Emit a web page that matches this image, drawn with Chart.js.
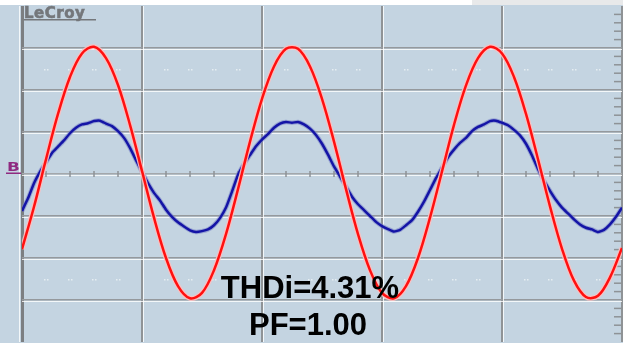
<!DOCTYPE html>
<html>
<head>
<meta charset="utf-8">
<script src="https://cdn.jsdelivr.net/npm/chart.js@4.4.1/dist/chart.umd.min.js"></script>
<style>
  body { margin: 0; background: #c4d4e1; }
  canvas { display: block; }
</style>
</head>
<body>
<canvas id="scope" width="623" height="343"></canvas>
<script>
// red trace: time in screen divisions, value in vertical divisions
const redTimes = [
  0, 0.1, 0.2, 0.3, 0.4, 0.5, 0.6, 0.7, 0.8, 0.9,
  1, 1.1, 1.2, 1.3, 1.4, 1.5, 1.6, 1.7, 1.8, 1.9,
  2, 2.1, 2.2, 2.3, 2.4, 2.5, 2.6, 2.7, 2.8, 2.9,
  3, 3.1, 3.2, 3.3, 3.4, 3.5, 3.6, 3.7, 3.8, 3.9,
  4, 4.1, 4.2, 4.3, 4.4, 4.5, 4.6, 4.7, 4.8, 4.9, 5
];
const redTrace = [
  -1.79, -0.78, 0.35, 1.43, 2.31, 2.87, 3.03, 2.76, 2.12, 1.17,
  0.07, -1.04, -2.00, -2.67, -2.96, -2.83, -2.29, -1.43, -0.36, 0.77,
  1.79, 2.56, 2.98, 2.98, 2.56, 1.79, 0.77, -0.36, -1.43, -2.29,
  -2.83, -2.96, -2.67, -2.00, -1.04, 0.06, 1.17, 2.11, 2.76, 3.03,
  2.87, 2.31, 1.43, 0.35, -0.77, -1.78, -2.54, -2.93, -2.90, -2.46, -1.76
];
// blue trace, read at half that spacing because it is noisy
const blueTimes = [
  0, 0.05, 0.1, 0.15, 0.2, 0.25, 0.3, 0.35, 0.4, 0.45,
  0.5, 0.55, 0.6, 0.65, 0.7, 0.75, 0.8, 0.85, 0.9, 0.95,
  1, 1.05, 1.1, 1.15, 1.2, 1.25, 1.3, 1.35, 1.4, 1.45,
  1.5, 1.55, 1.6, 1.65, 1.7, 1.75, 1.8, 1.85, 1.9, 1.95,
  2, 2.05, 2.1, 2.15, 2.2, 2.25, 2.3, 2.35, 2.4, 2.45,
  2.5, 2.55, 2.6, 2.65, 2.7, 2.75, 2.8, 2.85, 2.9, 2.95,
  3, 3.05, 3.1, 3.15, 3.2, 3.25, 3.3, 3.35, 3.4, 3.45,
  3.5, 3.55, 3.6, 3.65, 3.7, 3.75, 3.8, 3.85, 3.9, 3.95,
  4, 4.05, 4.1, 4.15, 4.2, 4.25, 4.3, 4.35, 4.4, 4.45,
  4.5, 4.55, 4.6, 4.65, 4.7, 4.75, 4.8, 4.85, 4.9, 4.95, 5
];
const blueTrace = [
  -0.88, -0.58, -0.22, 0.05, 0.28, 0.50, 0.65, 0.80, 0.97, 1.10,
  1.18, 1.21, 1.26, 1.27, 1.20, 1.14, 1.02, 0.86, 0.62, 0.33,
  0.05, -0.22, -0.45, -0.63, -0.85, -1.02, -1.15, -1.25, -1.34, -1.38,
  -1.36, -1.32, -1.22, -1.05, -0.80, -0.42, -0.02, 0.24, 0.45, 0.66,
  0.82, 0.95, 1.10, 1.20, 1.24, 1.22, 1.24, 1.18, 1.08, 0.93,
  0.72, 0.46, 0.18, -0.06, -0.30, -0.54, -0.72, -0.86, -1.00, -1.14,
  -1.24, -1.31, -1.37, -1.33, -1.22, -1.10, -0.90, -0.66, -0.38, -0.10,
  0.15, 0.40, 0.58, 0.74, 0.86, 1.02, 1.12, 1.18, 1.26, 1.27,
  1.22, 1.16, 1.05, 0.92, 0.72, 0.44, 0.12, -0.16, -0.40, -0.62,
  -0.80, -0.94, -1.08, -1.20, -1.28, -1.32, -1.38, -1.33, -1.20, -1.02, -0.80
];
const dotRows = [2.5, -2.5];
const thdText = "THDi=4.31%";
const pfText = "PF=1.00";

const redPoints = redTimes.map((t, i) => ({ x: t, y: redTrace[i] }));
const bluePoints = blueTimes.map((t, i) => ({ x: t, y: blueTrace[i] }));

const isMajor = (v) => Math.abs(v - Math.round(v)) < 1e-6;

const scopeDecor = {
  id: "scopeDecor",
  beforeDraw(chart) {
    const ctx = chart.ctx;
    ctx.save();
    ctx.fillStyle = "#c4d4e1";
    ctx.fillRect(0, 0, chart.width, chart.height);
    ctx.fillStyle = "#ffffff";
    ctx.fillRect(0, 0, chart.width, 5);
    ctx.fillStyle = "#e8e9ea";
    ctx.fillRect(472, 0, chart.width - 472, 5);
    ctx.restore();
  },
  beforeDatasetsDraw(chart) {
    const ctx = chart.ctx;
    const xs = chart.scales.x;
    const ys = chart.scales.y;
    const a = chart.chartArea;
    ctx.save();
    // white highlight next to the grid lines
    ctx.strokeStyle = "rgba(255,255,255,0.8)";
    ctx.lineWidth = 1;
    for (let v = 1; v <= 4; v++) {
      const px = Math.round(xs.getPixelForValue(v)) + 1.5;
      ctx.beginPath(); ctx.moveTo(px, a.top); ctx.lineTo(px, a.bottom); ctx.stroke();
    }
    for (let v = -3; v <= 3; v++) {
      const py = Math.round(ys.getPixelForValue(v)) + 1.5;
      ctx.beginPath(); ctx.moveTo(a.left, py); ctx.lineTo(a.right, py); ctx.stroke();
    }
    ctx.beginPath(); ctx.moveTo(a.left - 2.5, a.top); ctx.lineTo(a.left - 2.5, a.bottom); ctx.stroke();

    // minor ticks on the centre axes
    ctx.strokeStyle = "#8e9296";
    ctx.lineWidth = 1.5;
    const y0 = ys.getPixelForValue(0);
    for (let v = 0.2; v < 5; v += 0.2) {
      if (isMajor(v)) continue;
      const px = xs.getPixelForValue(v);
      ctx.beginPath(); ctx.moveTo(px, y0 - 3); ctx.lineTo(px, y0 + 3); ctx.stroke();
    }
    const xr = xs.getPixelForValue(5);
    for (let v = -3.8; v < 4; v += 0.2) {
      if (isMajor(v)) continue;
      const py = ys.getPixelForValue(v);
      ctx.beginPath(); ctx.moveTo(xr - 8, py); ctx.lineTo(xr, py); ctx.stroke();
    }

    // faint dot pairs
    ctx.fillStyle = "#e6edf2";
    dotRows.forEach((row) => {
      const py = Math.round(ys.getPixelForValue(row));
      for (let v = 0.2; v < 5; v += 0.2) {
        if (isMajor(v)) continue;
        const px = Math.round(xs.getPixelForValue(v));
        ctx.fillRect(px - 2, py, 1.5, 1.5);
        ctx.fillRect(px + 1, py, 1.5, 1.5);
      }
    });
    ctx.restore();
  },
  afterDraw(chart) {
    const ctx = chart.ctx;
    ctx.save();
    // LeCroy label
    ctx.fillStyle = "#74777b";
    ctx.strokeStyle = "#74777b";
    ctx.lineWidth = 0.6;
    ctx.font = "bold 15px 'DejaVu Sans'";
    ctx.letterSpacing = "0.5px";
    ctx.textBaseline = "alphabetic";
    ctx.fillText("LeCroy", 24, 18);
    ctx.strokeText("LeCroy", 24, 18);
    ctx.fillRect(24, 19, 72, 1.5);
    ctx.letterSpacing = "0px";

    // channel marker
    ctx.save();
    ctx.translate(7, 171);
    ctx.scale(1.4, 1);
    ctx.fillStyle = "#8f2a80";
    ctx.font = "bold 12px 'DejaVu Sans'";
    ctx.fillText("B", 0, 0);
    ctx.restore();
    ctx.fillStyle = "#8f2a80";
    ctx.fillRect(6, 172.5, 15, 1.5);

    // measurement text
    ctx.fillStyle = "#000000";
    ctx.font = "bold 31px 'Liberation Sans', Arial, sans-serif";
    ctx.textAlign = "center";
    ctx.fillText(thdText, 310, 298);
    ctx.fillText(pfText, 308, 335);
    ctx.restore();
  }
};

new Chart(document.getElementById("scope"), {
  type: "line",
  data: {
    datasets: [
      { data: redPoints, borderColor: "#ff1010", borderWidth: 2.5, tension: 0.35, order: 0 },
      { data: redPoints, borderColor: "rgba(255,190,190,0.9)", borderWidth: 5, tension: 0.35, order: 1 },
      { data: bluePoints, borderColor: "#1414a6", borderWidth: 2.5, tension: 0.15, order: 2 },
      { data: bluePoints, borderColor: "rgba(120,130,200,0.6)", borderWidth: 4.5, tension: 0.15, order: 3 }
    ]
  },
  options: {
    responsive: false,
    animation: false,
    layout: { padding: { left: 22, top: 6, right: 1, bottom: 1 } },
    elements: {
      point: { radius: 0 },
      line: { fill: false }
    },
    plugins: {
      legend: { display: false },
      tooltip: { enabled: false }
    },
    scales: {
      x: {
        type: "linear",
        min: 0,
        max: 5,
        ticks: { display: false, stepSize: 1 },
        border: { display: false },
        grid: {
          drawTicks: false,
          color: (c) => (c.tick && c.tick.value === 0 ? "#7c7f82" : "#8f9396"),
          lineWidth: (c) => (c.tick && c.tick.value === 0 ? 3 : 2)
        }
      },
      y: {
        type: "linear",
        min: -4,
        max: 4,
        ticks: { display: false, stepSize: 1 },
        border: { display: false },
        grid: {
          drawTicks: false,
          color: (c) => {
            const v = c.tick ? c.tick.value : 0;
            if (Math.abs(v) === 4) return "rgba(0,0,0,0)";
            return v === 0 ? "#a3a7ab" : "#95999d";
          },
          lineWidth: 1.5
        }
      }
    }
  },
  plugins: [scopeDecor]
});
</script>
</body>
</html>
